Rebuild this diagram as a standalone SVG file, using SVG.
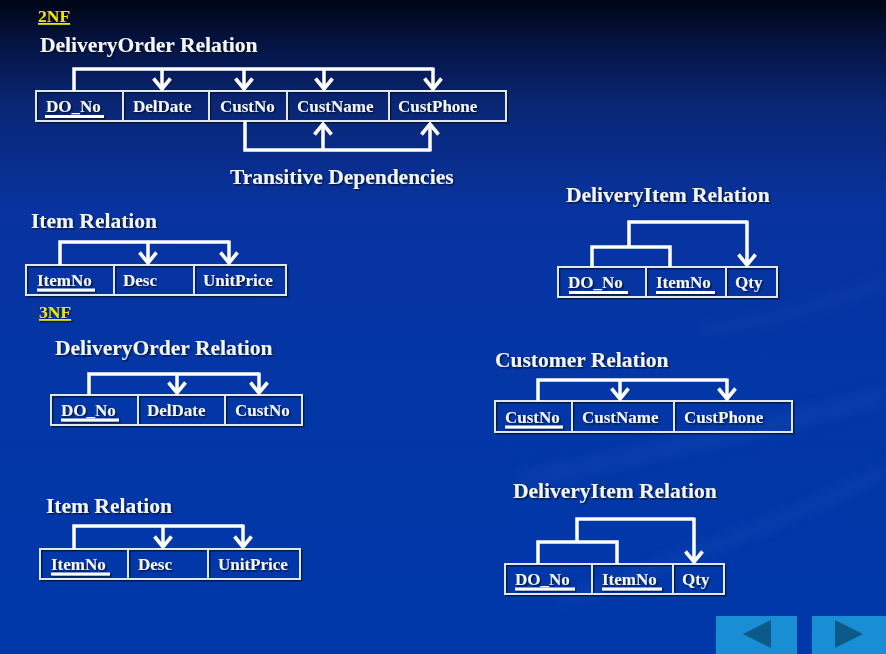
<svg xmlns="http://www.w3.org/2000/svg" width="886" height="654" viewBox="0 0 886 654">
  <defs>
    <linearGradient id="bg" x1="0" y1="0" x2="0" y2="1">
      <stop offset="0" stop-color="#010616"/>
      <stop offset="0.06" stop-color="#03123e"/>
      <stop offset="0.16" stop-color="#0a2675"/>
      <stop offset="0.32" stop-color="#0833a0"/>
      <stop offset="0.6" stop-color="#0336a6"/>
      <stop offset="1" stop-color="#0038aa"/>
    </linearGradient>
    <filter id="shadow" x="-10%" y="-30%" width="120%" height="160%">
      <feDropShadow dx="1.5" dy="1.5" stdDeviation="0.6" flood-color="#000820" flood-opacity="0.75"/>
    </filter>
    <filter id="soft" x="-20%" y="-50%" width="140%" height="200%">
      <feGaussianBlur stdDeviation="7"/>
    </filter>
    <marker id="chev" markerUnits="userSpaceOnUse" markerWidth="24" markerHeight="24" viewBox="-12 -12 24 24" refX="0" refY="0" orient="auto" overflow="visible">
      <path d="M-10.5,-8.5 L0,0 L-10.5,8.5" fill="none" stroke="#ffffff" stroke-width="3.6" stroke-linejoin="miter" stroke-linecap="butt"/>
    </marker>
    <style>
      .title { font-family: "Liberation Serif", "Times New Roman", serif; font-weight: bold; font-size: 21.5px; fill: #f4f6fb; }
      .nf { font-family: "Liberation Serif", "Times New Roman", serif; font-weight: bold; font-size: 17.5px; fill: #f2e600; text-decoration: underline; }
      .field { font-family: "Liberation Serif", "Times New Roman", serif; font-weight: bold; font-size: 17px; fill: #f4f6fb; }
      .cell { fill: none; stroke: #dfe6f4; stroke-width: 2; }
      .key { stroke: #ffffff; stroke-width: 3; }
      .conn { fill: none; stroke: #ffffff; stroke-width: 3.5; stroke-linejoin: miter; }
      .arrow { fill: none; stroke: #ffffff; stroke-width: 3.5; marker-end: url(#chev); }
      .btn { fill: #1a8ed4; }
      .tri { fill: #0b5a8a; }
    </style>
  </defs>

  <!-- backdrop -->
  <rect width="886" height="654" fill="url(#bg)"/>
  <g filter="url(#soft)" opacity="0.25">
    <path d="M520,480 C640,455 760,430 886,395" fill="none" stroke="#2a5cc0" stroke-width="14"/>
    <path d="M560,600 C680,560 790,520 886,470" fill="none" stroke="#2a5cc0" stroke-width="10"/>
    <path d="M700,330 C780,320 840,300 886,280" fill="none" stroke="#2456b8" stroke-width="8"/>
  </g>

  <!-- section headings -->
  <text class="nf" x="38" y="22" filter="url(#shadow)">2NF</text>
  <text class="nf" x="39" y="318" filter="url(#shadow)">3NF</text>

  <!-- 2NF: DeliveryOrder -->
  <g id="do2" filter="url(#shadow)">
    <text class="title" x="40" y="52">DeliveryOrder Relation</text>
    <rect class="cell" x="36" y="91" width="470" height="30"/>
    <path class="cell" d="M123,91 V121 M209,91 V121 M287,91 V121 M389,91 V121"/>
    <text class="field" x="46" y="112">DO_No</text>
    <line class="key" x1="45" y1="116.5" x2="104" y2="116.5"/>
    <text class="field" x="133" y="112">DelDate</text>
    <text class="field" x="220" y="112">CustNo</text>
    <text class="field" x="297" y="112">CustName</text>
    <text class="field" x="398" y="112">CustPhone</text>
    <text class="title" x="230" y="184">Transitive Dependencies</text>
  </g>

  <!-- 2NF: Item -->
  <g id="item2" filter="url(#shadow)">
    <text class="title" x="31" y="228">Item Relation</text>
    <rect class="cell" x="26" y="265" width="260" height="30"/>
    <path class="cell" d="M114,265 V295 M194,265 V295"/>
    <text class="field" x="37" y="286">ItemNo</text>
    <line class="key" x1="37" y1="290" x2="95" y2="290"/>
    <text class="field" x="123" y="286">Desc</text>
    <text class="field" x="203" y="286">UnitPrice</text>
  </g>

  <!-- 2NF: DeliveryItem -->
  <g id="di2" filter="url(#shadow)">
    <text class="title" x="566" y="202">DeliveryItem Relation</text>
    <rect class="cell" x="558" y="267" width="219" height="30"/>
    <path class="cell" d="M646,267 V297 M726,267 V297"/>
    <text class="field" x="568" y="288">DO_No</text>
    <line class="key" x1="569" y1="292.5" x2="628" y2="292.5"/>
    <text class="field" x="656" y="288">ItemNo</text>
    <line class="key" x1="656" y1="292.5" x2="715" y2="292.5"/>
    <text class="field" x="735" y="288">Qty</text>
  </g>

  <!-- 3NF: DeliveryOrder -->
  <g id="do3" filter="url(#shadow)">
    <text class="title" x="55" y="355">DeliveryOrder Relation</text>
    <rect class="cell" x="51" y="395" width="251" height="30"/>
    <path class="cell" d="M138,395 V425 M225,395 V425"/>
    <text class="field" x="61" y="416">DO_No</text>
    <line class="key" x1="61" y1="420" x2="119" y2="420"/>
    <text class="field" x="147" y="416">DelDate</text>
    <text class="field" x="235" y="416">CustNo</text>
  </g>

  <!-- 3NF: Customer -->
  <g id="cust3" filter="url(#shadow)">
    <text class="title" x="495" y="367">Customer Relation</text>
    <rect class="cell" x="495" y="401" width="297" height="31"/>
    <path class="cell" d="M572,401 V432 M674,401 V432"/>
    <text class="field" x="505" y="423">CustNo</text>
    <line class="key" x1="505" y1="427" x2="563" y2="427"/>
    <text class="field" x="582" y="423">CustName</text>
    <text class="field" x="684" y="423">CustPhone</text>
  </g>

  <!-- 3NF: Item -->
  <g id="item3" filter="url(#shadow)">
    <text class="title" x="46" y="513">Item Relation</text>
    <rect class="cell" x="40" y="549" width="260" height="30"/>
    <path class="cell" d="M128,549 V579 M208,549 V579"/>
    <text class="field" x="51" y="570">ItemNo</text>
    <line class="key" x1="51" y1="574" x2="110" y2="574"/>
    <text class="field" x="138" y="570">Desc</text>
    <text class="field" x="218" y="570">UnitPrice</text>
  </g>

  <!-- 3NF: DeliveryItem -->
  <g id="di3" filter="url(#shadow)">
    <text class="title" x="513" y="498">DeliveryItem Relation</text>
    <rect class="cell" x="505" y="564" width="219" height="30"/>
    <path class="cell" d="M592,564 V594 M673,564 V594"/>
    <text class="field" x="515" y="585">DO_No</text>
    <line class="key" x1="515" y1="589" x2="575" y2="589"/>
    <text class="field" x="602" y="585">ItemNo</text>
    <line class="key" x1="602" y1="589" x2="662" y2="589"/>
    <text class="field" x="682" y="585">Qty</text>
  </g>

  <!-- functional dependency connectors -->
  <g id="connectors">
    <!-- DeliveryOrder (2NF): DO_No determines all -->
    <path class="conn" d="M74,91 V69 H433"/>
    <line class="arrow" x1="162" y1="69" x2="162" y2="89"/>
    <line class="arrow" x1="244" y1="69" x2="244" y2="89"/>
    <line class="arrow" x1="324" y1="69" x2="324" y2="89"/>
    <line class="arrow" x1="433" y1="67.5" x2="433" y2="89"/>
    <!-- transitive: CustNo determines CustName, CustPhone -->
    <path class="conn" d="M245,121 V150 H430"/>
    <line class="arrow" x1="323" y1="150" x2="323" y2="124"/>
    <line class="arrow" x1="430" y1="151.5" x2="430" y2="124"/>

    <!-- Item (2NF) -->
    <path class="conn" d="M60,265 V242 H229"/>
    <line class="arrow" x1="148" y1="242" x2="148" y2="263"/>
    <line class="arrow" x1="229" y1="240.5" x2="229" y2="263"/>

    <!-- DeliveryItem (2NF) -->
    <path class="conn" d="M592,267 V247 H670 V267"/>
    <path class="conn" d="M629,247 V222 H747"/>
    <line class="arrow" x1="747" y1="220.5" x2="747" y2="265"/>

    <!-- DeliveryOrder (3NF) -->
    <path class="conn" d="M89,395 V374 H259"/>
    <line class="arrow" x1="177" y1="374" x2="177" y2="393"/>
    <line class="arrow" x1="259" y1="372.5" x2="259" y2="393"/>

    <!-- Customer (3NF) -->
    <path class="conn" d="M538,401 V380 H727"/>
    <line class="arrow" x1="620" y1="380" x2="620" y2="399"/>
    <line class="arrow" x1="727" y1="378.5" x2="727" y2="399"/>

    <!-- Item (3NF) -->
    <path class="conn" d="M74,549 V526 H243"/>
    <line class="arrow" x1="163" y1="526" x2="163" y2="547"/>
    <line class="arrow" x1="243" y1="524.5" x2="243" y2="547"/>

    <!-- DeliveryItem (3NF) -->
    <path class="conn" d="M538,564 V542 H617 V564"/>
    <path class="conn" d="M577,542 V519 H694"/>
    <line class="arrow" x1="694" y1="517.5" x2="694" y2="562"/>
  </g>

  <!-- navigation buttons -->
  <g id="nav-prev">
    <rect class="btn" x="716" y="616" width="81" height="38"/>
    <polygon class="tri" points="743,634 771,620 771,648"/>
  </g>
  <g id="nav-next">
    <rect class="btn" x="812" y="616" width="74" height="38"/>
    <polygon class="tri" points="835,620 863,634 835,648"/>
  </g>
</svg>
